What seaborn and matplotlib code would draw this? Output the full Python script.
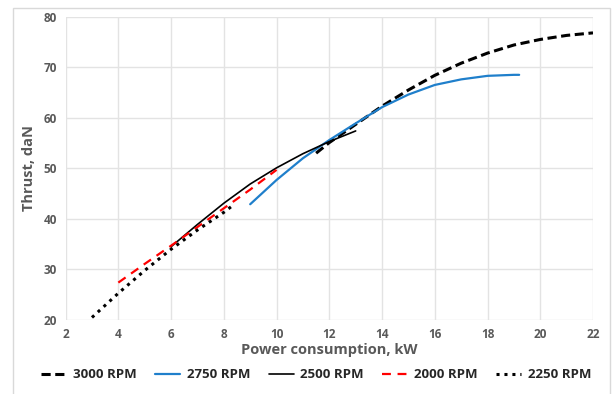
import matplotlib
matplotlib.use("Agg")
import matplotlib.pyplot as plt
import seaborn as sns
import pandas as pd
from matplotlib.patches import Rectangle

# Data
x_3000 = [11.5, 12, 13, 14, 15, 16, 17, 18, 19, 20, 21, 22]
y_3000 = [53.0, 55.1, 58.7, 62.3, 65.5, 68.4, 70.8, 72.8, 74.4, 75.5, 76.3, 76.8]

x_2750 = [9, 10, 11, 12, 13, 14, 15, 16, 17, 18, 19, 19.2]
y_2750 = [42.9, 47.7, 52.0, 55.6, 58.9, 62.1, 64.6, 66.5, 67.6, 68.3, 68.5, 68.5]

x_2500 = [6.0, 7, 8, 9, 10, 11, 12, 13]
y_2500 = [34.5, 38.9, 43.1, 46.9, 50.1, 52.9, 55.3, 57.4]

x_2000 = [4, 5, 6, 7, 8, 9, 10]
y_2000 = [27.4, 31.1, 34.7, 38.4, 42.1, 45.8, 49.7]

x_2250 = [3, 4, 5, 6, 7, 8, 8.35]
y_2250 = [20.5, 25.3, 29.8, 34.0, 37.8, 41.3, 42.7]

x_ticks = [2, 4, 6, 8, 10, 12, 14, 16, 18, 20, 22]
y_ticks = [20, 30, 40, 50, 60, 70, 80]

sns.set_style("white")
plt.rcParams['font.family'] = ['Open Sans', 'DejaVu Sans']

fig = plt.figure(figsize=(6.12, 3.94), dpi=100)
ax = fig.add_axes([65.6 / 612, 1 - 320 / 394, (593 - 65.6) / 612, (320 - 16.7) / 394])

# outer chart border
fig.patches.append(Rectangle((13 / 612, -0.01), (610 - 13) / 612, 1 - 8 / 394 + 0.01,
                             transform=fig.transFigure, fill=False,
                             edgecolor="#d9d9d9", linewidth=1))

series = [
    ("3000 RPM", x_3000, y_3000, "black", (0, (3, 1.5)), 2.2),
    ("2750 RPM", x_2750, y_2750, "#1f7fcb", "-", 1.6),
    ("2500 RPM", x_2500, y_2500, "black", "-", 1.2),
    ("2000 RPM", x_2000, y_2000, "#ff0000", (0, (4, 3)), 1.6),
    ("2250 RPM", x_2250, y_2250, "black", (0, (1, 1.6)), 2.2),
]

for name, xs, ys, color, ls, lw in series:
    df = pd.DataFrame({"x": xs, "y": ys})
    sns.lineplot(data=df, x="x", y="y", ax=ax, color=color, linestyle=ls,
                 linewidth=lw, label=name)

ax.set_xlim(2, 22)
ax.set_ylim(20, 80)
ax.set_xticks(x_ticks)
ax.set_yticks(y_ticks)
ax.grid(True, color="#e3e3e3", linewidth=1)
for s in ax.spines.values():
    s.set_visible(False)
ax.tick_params(length=0, labelsize=8.5, labelcolor="#595959", pad=6)
for lab in ax.get_xticklabels() + ax.get_yticklabels():
    lab.set_fontweight("bold")

ax.set_xlabel("Power consumption, kW", fontsize=10.5, fontweight="bold",
              color="#595959", labelpad=1)
ax.set_ylabel("Thrust, daN", fontsize=10.5, fontweight="bold",
              color="#595959", labelpad=6)

leg = ax.legend(loc="upper center", bbox_to_anchor=(0.475, -0.12), ncol=5,
                frameon=False, fontsize=9.5, handlelength=1.9, columnspacing=1.4,
                handletextpad=0.5)
for t in leg.get_texts():
    t.set_fontweight("bold")

fig.savefig("out.png", dpi=100)
